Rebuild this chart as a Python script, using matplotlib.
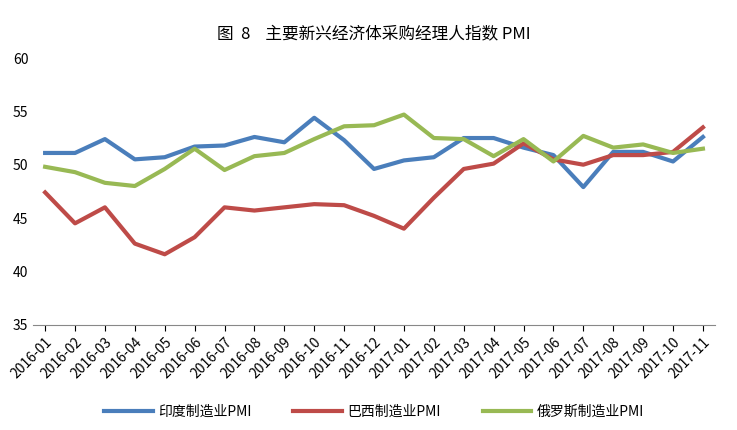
import matplotlib
matplotlib.use("Agg")
import matplotlib.pyplot as plt

plt.rcParams['font.family'] = ['Noto Sans CJK SC', 'DejaVu Sans']

months = ['2016-01', '2016-02', '2016-03', '2016-04', '2016-05', '2016-06', '2016-07', '2016-08',
          '2016-09', '2016-10', '2016-11', '2016-12', '2017-01', '2017-02', '2017-03', '2017-04',
          '2017-05', '2017-06', '2017-07', '2017-08', '2017-09', '2017-10', '2017-11']
india = [51.1, 51.1, 52.4, 50.5, 50.7, 51.7, 51.8, 52.6, 52.1, 54.4, 52.3, 49.6,
         50.4, 50.7, 52.5, 52.5, 51.6, 50.9, 47.9, 51.2, 51.2, 50.3, 52.6]
brazil = [47.4, 44.5, 46.0, 42.6, 41.6, 43.2, 46.0, 45.7, 46.0, 46.3, 46.2, 45.2,
          44.0, 46.9, 49.6, 50.1, 52.0, 50.5, 50.0, 50.9, 50.9, 51.2, 53.5]
russia = [49.8, 49.3, 48.3, 48.0, 49.6, 51.5, 49.5, 50.8, 51.1, 52.4, 53.6, 53.7,
          54.7, 52.5, 52.4, 50.8, 52.4, 50.3, 52.7, 51.6, 51.9, 51.1, 51.5]

fig, ax = plt.subplots(figsize=(7.37, 4.30), dpi=100)
fig.subplots_adjust(left=0.045, right=0.97, top=0.865, bottom=0.245)
x = range(len(months))
ax.plot(x, india, color='#4a7ebb', lw=3, label='印度制造业PMI')
ax.plot(x, brazil, color='#be4b48', lw=3, label='巴西制造业PMI')
ax.plot(x, russia, color='#98b954', lw=3, label='俄罗斯制造业PMI')

ax.set_ylim(35, 60)
ax.set_yticks(range(35, 61, 5))
ax.set_xlim(-0.4, len(months) - 0.6)
ax.set_xticks(list(x))
ax.set_xticklabels(months, rotation=45, ha='right', rotation_mode='anchor', fontsize=10)
ax.tick_params(axis='y', length=0, labelsize=10)
ax.tick_params(axis='x', length=4)
for s in ['top', 'right', 'left']:
    ax.spines[s].set_visible(False)
ax.spines['bottom'].set_color('#888888')
ax.set_title('图  8    主要新兴经济体采购经理人指数 PMI', fontsize=12, pad=14)
ax.legend(loc='lower center', bbox_to_anchor=(0.5, -0.4), ncol=3, frameon=False,
          fontsize=10, handlelength=3.5, handletextpad=0.4, columnspacing=3)
fig.savefig('out.png')
